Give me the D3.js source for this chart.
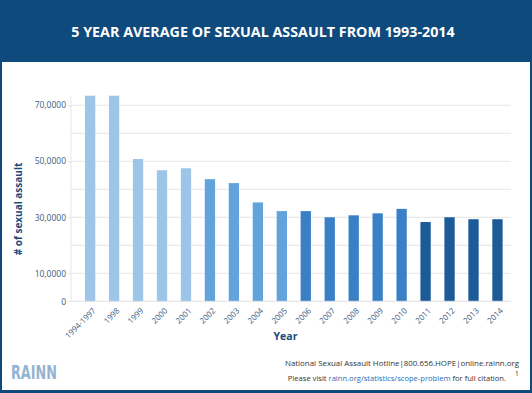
<!DOCTYPE html>
<html>
<head>
    <meta charset="utf-8">
    <title>5 Year Average of Sexual Assault</title>
    <script src="https://cdnjs.cloudflare.com/ajax/libs/d3/7.8.5/d3.min.js"></script>
    <style>
        html, body {
            margin: 0;
            padding: 0;
            background: #0e4a7c;
            font-family: 'Open Sans', sans-serif;
        }
        svg { display: block; }
    </style>
</head>
<body>
    <div id="chart"></div>
    <script>
        const years = ["1994-1997", "1998", "1999", "2000", "2001", "2002", "2003", "2004", "2005",
            "2006", "2007", "2008", "2009", "2010", "2011", "2012", "2013", "2014"];
        const assaults = [73400, 73400, 50800, 46800, 47500, 43600, 42200, 35300, 32200,
            32200, 30000, 30700, 31400, 33000, 28300, 30000, 29300, 29300];
        // shade group of each bar
        const shadeGroup = [0, 0, 0, 0, 0, 1, 1, 1, 1, 2, 2, 2, 2, 2, 3, 3, 3, 3];
        const gridValues = [10000, 20000, 30000, 40000, 50000, 60000, 70000];
        const tickValues = [0, 10000, 30000, 50000, 70000];
        const tickLabels = ["0", "10,0000", "30,0000", "50,0000", "70,0000"];

        const W = 532, H = 393;
        const svg = d3.select("#chart").append("svg")
            .attr("width", W)
            .attr("height", H);

        // frame
        svg.append("rect").attr("width", W).attr("height", H).attr("fill", "#0e4a7c");
        svg.append("rect")
            .attr("x", 2).attr("y", 62)
            .attr("width", 528).attr("height", 328)
            .attr("fill", "white");

        svg.append("text")
            .attr("x", 263).attr("y", 37)
            .attr("text-anchor", "middle")
            .attr("fill", "white")
            .attr("font-weight", "bold")
            .attr("font-size", "14.3px")
            .text("5 YEAR AVERAGE OF SEXUAL ASSAULT FROM 1993-2014");

        const plotLeft = 71, plotRight = 511, plotTop = 95.7, plotBottom = 301.3;

        const y = d3.scaleLinear()
            .domain([0, 73400])
            .range([plotBottom, plotTop]);

        const x = d3.scaleBand()
            .domain(years)
            .range([73, 514.6])
            .paddingInner(0.57)
            .paddingOuter(0.5);

        const color = d3.scaleOrdinal([0, 1, 2, 3], ["#9cc5e8", "#62a3db", "#3a80c6", "#1d5b98"]);

        // grid
        svg.append("g")
            .selectAll("line")
            .data(gridValues)
            .join("line")
            .attr("x1", plotLeft).attr("x2", plotRight)
            .attr("y1", d => y(d)).attr("y2", d => y(d))
            .attr("stroke", "#e6e6e6")
            .attr("stroke-width", 1);

        svg.append("line")
            .attr("x1", plotLeft).attr("x2", plotLeft)
            .attr("y1", plotTop).attr("y2", plotBottom)
            .attr("stroke", "#e6e6e6");

        // bars
        svg.append("g")
            .selectAll("rect")
            .data(years)
            .join("rect")
            .attr("x", d => x(d))
            .attr("width", x.bandwidth())
            .attr("y", (d, i) => y(assaults[i]))
            .attr("height", (d, i) => plotBottom - y(assaults[i]))
            .attr("fill", (d, i) => color(shadeGroup[i]));

        svg.append("line")
            .attr("x1", plotLeft).attr("x2", plotRight)
            .attr("y1", plotBottom).attr("y2", plotBottom)
            .attr("stroke", "#e0e0e0");

        // y axis labels
        const yAxis = svg.append("g")
            .attr("transform", `translate(${plotLeft},0)`)
            .call(d3.axisLeft(y)
                .tickValues(tickValues)
                .tickFormat((d, i) => tickLabels[i])
                .tickSize(3)
                .tickPadding(2));
        yAxis.select(".domain").remove();
        yAxis.selectAll(".tick line").attr("stroke", "#e6e6e6");
        yAxis.selectAll("text")
            .attr("fill", "#3b5c82")
            .attr("font-size", "8.5px")
            .attr("font-family", "'Open Sans', sans-serif");

        // x axis labels
        const xAxis = svg.append("g")
            .attr("transform", `translate(0,${plotBottom})`)
            .call(d3.axisBottom(x).tickSize(0).tickPadding(0));
        xAxis.select(".domain").remove();
        xAxis.selectAll("text")
            .attr("fill", "#3b5c82")
            .attr("font-size", "8px")
            .attr("font-family", "'Open Sans', sans-serif")
            .attr("text-anchor", "end")
            .attr("dy", 0)
            .attr("y", 0)
            .attr("transform", "translate(6,10) rotate(-45)");

        // axis titles
        svg.append("text")
            .attr("transform", "translate(22,209) rotate(-90)")
            .attr("text-anchor", "middle")
            .attr("fill", "#1a4a7a")
            .attr("font-weight", "bold")
            .attr("font-size", "10px")
            .text("# of sexual assault");

        svg.append("text")
            .attr("x", 285.5).attr("y", 339.5)
            .attr("text-anchor", "middle")
            .attr("fill", "#1a4a7a")
            .attr("font-weight", "bold")
            .attr("font-size", "10.5px")
            .text("Year");

        // footer
        svg.append("text")
            .attr("x", 11).attr("y", 378.5)
            .attr("fill", "#94b4d2")
            .attr("font-family", "'Liberation Sans Narrow', 'DejaVu Sans Condensed', sans-serif")
            .attr("font-weight", "bold")
            .attr("font-size", "19px")
            .attr("textLength", 46)
            .attr("lengthAdjust", "spacingAndGlyphs")
            .text("RAINN");

        svg.append("text")
            .attr("x", 519).attr("y", 366)
            .attr("text-anchor", "end")
            .attr("fill", "#333")
            .attr("font-size", "7.9px")
            .text("National Sexual Assault Hotline|800.656.HOPE|online.rainn.org");

        const cite = svg.append("text")
            .attr("x", 506).attr("y", 381)
            .attr("text-anchor", "end")
            .attr("fill", "#333")
            .attr("font-size", "7.6px");
        cite.append("tspan").text("Please visit ");
        cite.append("tspan").attr("fill", "#2b6cb5").text("rainn.org/statistics/scope-problem");
        cite.append("tspan").text(" for full citation.");
        svg.append("text")
            .attr("x", 515).attr("y", 376)
            .attr("fill", "#333")
            .attr("font-size", "6.5px")
            .text("1");
    </script>
</body>
</html>
